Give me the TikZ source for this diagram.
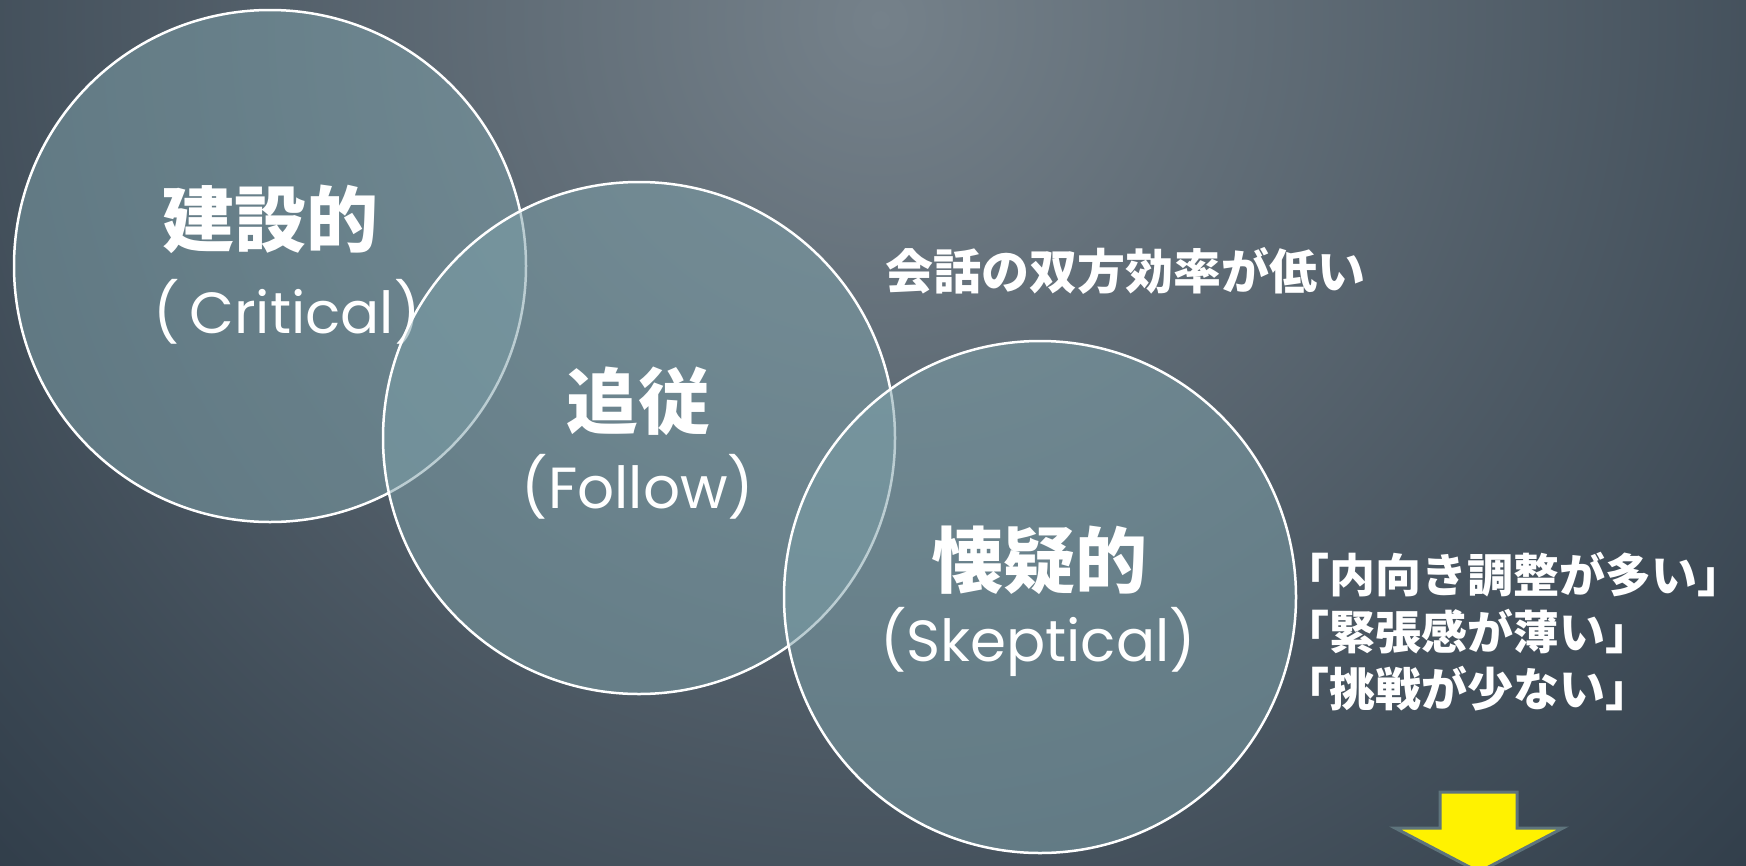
\documentclass[tikz,border=0pt]{standalone}
\usepackage{fontspec}
\newfontfamily\jp{Noto Sans CJK JP}
\newfontfamily\lat{Poppins}
\definecolor{bgin}{HTML}{75818A}
\definecolor{bgout}{HTML}{222F3C}
\definecolor{cfill}{HTML}{7DA0A9}
\definecolor{arrowedge}{HTML}{5E747C}
\tikzset{
  bubble/.style={fill=cfill, fill opacity=0.52, draw=white, draw opacity=1, line width=2.5pt},
  jptitle/.style={text=white, font=\jp\bfseries\fontsize{72}{80}\selectfont, inner sep=0pt},
  entitle/.style={text=white, font=\lat\fontsize{58}{64}\selectfont, inner sep=0pt},
  note/.style={text=white, font=\jp\bfseries\fontsize{48}{57}\selectfont, inner sep=0pt, align=left},
  listnote/.style={text=white, font=\jp\bfseries\fontsize{46}{57}\selectfont, inner sep=0pt, align=left},
}
\begin{document}
\begin{tikzpicture}[x=1pt, y=-1pt]
\useasboundingbox (0,0) rectangle (1746,865);
\begin{scope}
  \clip (0,0) rectangle (1746,865);
  \shade[inner color=bgin, outer color=bgout] (880,20) circle (1500pt);
\end{scope}
% circle 1
\draw[bubble] (270,266) circle (256pt);
\node[jptitle] (t1) at (270,219) {建設的};
\node[entitle] (e1) at (287,312) {(\,Critical)};
% circle 2
\draw[bubble] (639,438) circle (256pt);
\node[jptitle] (t2) at (638,401) {追従};
\node[entitle] (e2) at (638,487) {(Follow)};
% circle 3
\draw[bubble] (1040,597) circle (256pt);
\node[jptitle] (t3) at (1039,560) {懐疑的};
\node[entitle] (e3) at (1038,642) {(Skeptical)};
% notes
\node[note, anchor=west] (n1) at (885,271) {会話の双方効率が低い};
\node[listnote, anchor=north west] (n2) at (1283,552) {「内向き調整が多い」\\「緊張感が薄い」\\「挑戦が少ない」};
% arrow
\draw[fill=yellow, draw=arrowedge, line width=3pt, line join=miter]
  (1440,792) -- (1517,792) -- (1517,828) -- (1563,828) -- (1479,872)
  -- (1395,828) -- (1440,828) -- cycle;
\end{tikzpicture}
\end{document}
